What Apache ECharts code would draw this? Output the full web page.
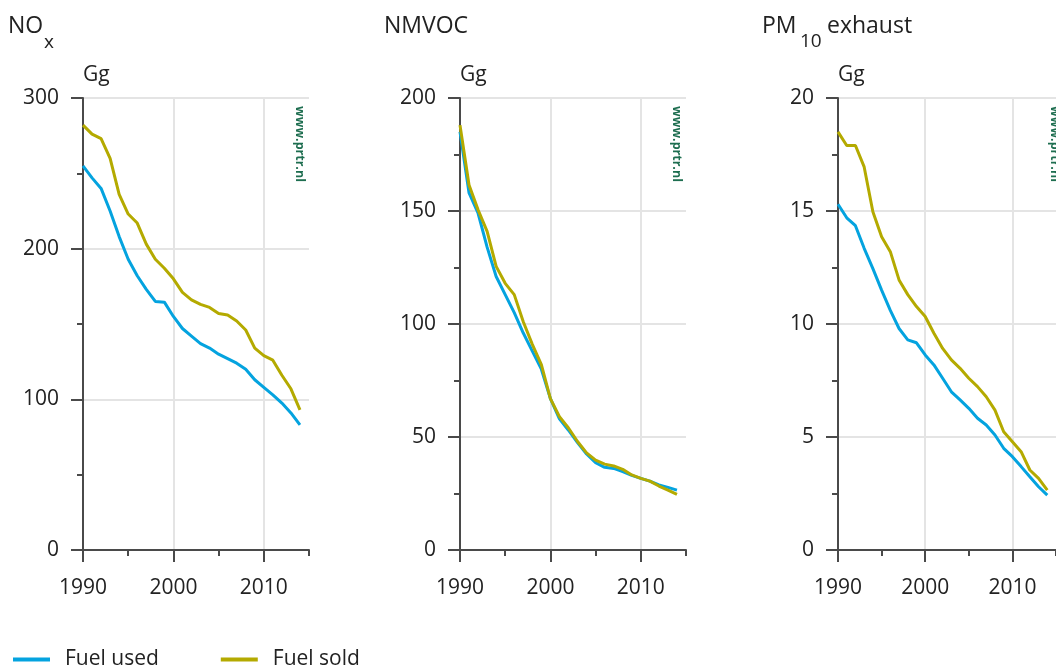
<!DOCTYPE html>
<html>
<head>
<meta charset="utf-8">
<script src="https://cdn.jsdelivr.net/npm/echarts@6/dist/echarts.min.js"></script>
<style>
html, body { margin: 0; padding: 0; background: #fff; }
#chart { width: 1056px; height: 666px; }
</style>
</head>
<body>
<div id="chart"></div>
<script>
// Emissies wegverkeer: fuel used vs fuel sold, drie panelen (NOx, NMVOC, PM10)
const years = [1990, 1991, 1992, 1993, 1994, 1995, 1996, 1997, 1998, 1999,
  2000, 2001, 2002, 2003, 2004, 2005, 2006, 2007, 2008, 2009,
  2010, 2011, 2012, 2013, 2014]

const noxUsed = [255, 247, 240, 225, 208, 193, 182, 173, 165, 164.5,
  155, 147, 142, 137, 134, 130, 127, 124, 120, 113,
  108, 103, 97.5, 91, 83]
const noxSold = [282, 276, 273, 260, 236, 223, 217, 203, 193, 187,
  180, 171, 166, 163, 161, 157, 156, 152, 146, 134,
  129, 126, 116, 107, 93]

const nmvocUsed = [185, 158, 149, 134, 121, 113, 105, 96, 88, 80,
  67, 58, 53, 47.5, 42.5, 38.6, 36.6, 36.1, 34.7, 33,
  31.7, 30.5, 28.8, 27.7, 26.5]
const nmvocSold = [188, 161.5, 150.5, 141, 125.5, 118, 113, 101, 91, 82,
  67, 59, 54, 48, 43, 39.8, 38, 37.2, 35.7, 33.2,
  31.7, 30.5, 28.3, 26.5, 24.6]

const pmUsed = [15.3, 14.7, 14.35, 13.35, 12.45, 11.5, 10.6, 9.8, 9.3, 9.17,
  8.63, 8.19, 7.6, 7.0, 6.64, 6.27, 5.83, 5.53, 5.09, 4.5,
  4.13, 3.69, 3.24, 2.8, 2.43]
const pmSold = [18.5, 17.9, 17.9, 16.95, 14.97, 13.86, 13.2, 11.95, 11.3, 10.77,
  10.33, 9.59, 8.92, 8.41, 8.04, 7.6, 7.23, 6.78, 6.19, 5.23,
  4.79, 4.35, 3.54, 3.17, 2.65]

// tick labels
const xMajor = [1990, 2000, 2010]
const xMinor = [1995, 2005, 2015]
const noxMajor = [0, 100, 200, 300]
const noxMinor = [50, 150, 250]
const nmvocMajor = [0, 50, 100, 150, 200]
const nmvocMinor = [25, 75, 125, 175]
const pmMajor = [0, 5, 10, 15, 20]
const pmMinor = [2.5, 7.5, 12.5, 17.5]

const seriesNames = ['Fuel used', 'Fuel sold']

const BLUE = '#04a3df'
const OLIVE = '#b4aa00'
const AXIS = '#4a4a4a'
const GRIDC = '#e4e4e4'
const TXT = '#222'
const FONT = 'Open Sans'

const panels = [
  { left: 83, max: 300, step: 100, major: noxMajor, minor: noxMinor, used: noxUsed, sold: noxSold },
  { left: 460, max: 200, step: 50, major: nmvocMajor, minor: nmvocMinor, used: nmvocUsed, sold: nmvocSold },
  { left: 838, max: 20, step: 5, major: pmMajor, minor: pmMinor, used: pmUsed, sold: pmSold },
]

const lbl = { color: TXT, fontFamily: FONT, fontSize: 21 }
const tickLine = { color: AXIS, width: 2 }
const gridLine = { show: true, showMinLine: false, showMaxLine: true, lineStyle: { color: GRIDC, width: 2 } }

const grid = [], xAxis = [], yAxis = [], series = []
panels.forEach((p, i) => {
  grid.push({ left: p.left, top: 98, width: 226, height: 452 })
  // hoofdas + aparte as voor korte tussenstreepjes
  xAxis.push({
    type: 'value', gridIndex: i, min: 1990, max: 2015, interval: 10, position: 'bottom',
    axisLine: { onZero: false, lineStyle: tickLine },
    axisTick: { customValues: xMajor, length: 12, lineStyle: tickLine },
    axisLabel: Object.assign({ customValues: xMajor, margin: 28, formatter: v => String(v) }, lbl),
    splitLine: gridLine,
  })
  xAxis.push({
    type: 'value', gridIndex: i, min: 1990, max: 2015, position: 'bottom',
    axisLine: { show: false, onZero: false },
    axisTick: { customValues: xMinor, length: 6, lineStyle: tickLine },
    axisLabel: { show: false }, splitLine: { show: false },
  })
  yAxis.push({
    type: 'value', gridIndex: i, min: 0, max: p.max, interval: p.step, position: 'left',
    axisLine: { show: true, onZero: false, lineStyle: tickLine },
    axisTick: { customValues: p.major, length: 12, lineStyle: tickLine },
    axisLabel: Object.assign({ customValues: p.major, margin: 24 }, lbl),
    splitLine: gridLine,
  })
  yAxis.push({
    type: 'value', gridIndex: i, min: 0, max: p.max, position: 'left',
    axisLine: { show: false, onZero: false },
    axisTick: { customValues: p.minor, length: 6, lineStyle: tickLine },
    axisLabel: { show: false }, splitLine: { show: false },
  })
  ;[[p.used, BLUE, seriesNames[0]], [p.sold, OLIVE, seriesNames[1]]].forEach(([vals, col, name]) => {
    series.push({
      type: 'line', name, xAxisIndex: i * 2, yAxisIndex: i * 2,
      data: years.map((y, k) => [y, vals[k]]),
      showSymbol: false, symbol: 'none',
      lineStyle: { color: col, width: 3 }, itemStyle: { color: col },
    })
  })
})

// titels, eenheid en watermerk
const titleStyle = { fill: TXT, font: '23px "Open Sans"' }
const subStyle = { fill: TXT, font: '19px "Open Sans"' }
const graphic = [
  { type: 'text', left: 8, top: 15, style: Object.assign({ text: 'NO' }, titleStyle) },
  { type: 'text', left: 44, top: 33, style: Object.assign({ text: 'x' }, subStyle) },
  { type: 'text', left: 384, top: 15, style: Object.assign({ text: 'NMVOC' }, titleStyle) },
  { type: 'text', left: 762, top: 15, style: Object.assign({ text: 'PM' }, titleStyle) },
  { type: 'text', left: 800, top: 32, style: Object.assign({ text: '10' }, subStyle) },
  { type: 'text', left: 827, top: 15, style: Object.assign({ text: 'exhaust' }, titleStyle) },
]
panels.forEach(p => {
  graphic.push({ type: 'text', left: p.left, top: 65, style: Object.assign({ text: 'Gg' }, titleStyle, { font: '21px "Open Sans"' }) })
  graphic.push({
    type: 'text', x: p.left + 217, y: 106, rotation: -Math.PI / 2,
    style: { text: 'www.prtr.nl', fill: '#1e6e50', font: 'bold 12.5px "Open Sans"', verticalAlign: 'middle' },
  })
})

const chart = echarts.init(document.getElementById('chart'), null, { renderer: 'canvas' })
chart.setOption({
  animation: false,
  backgroundColor: '#fff',
  grid, xAxis, yAxis, series, graphic,
  legend: {
    left: 8, top: 644, icon: 'rect', itemWidth: 37, itemHeight: 4, itemGap: 62,
    data: seriesNames,
    textStyle: { color: TXT, fontFamily: FONT, fontSize: 21, padding: [0, 0, 0, 10] },
  },
})
</script>
</body>
</html>
